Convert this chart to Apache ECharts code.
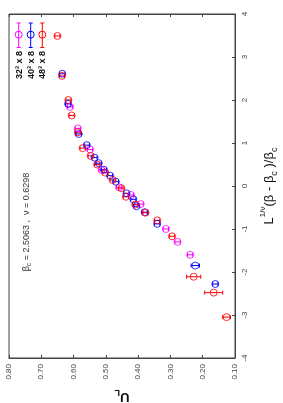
<!DOCTYPE html>
<html><head><meta charset="utf-8">
<script src="https://cdn.jsdelivr.net/npm/echarts/dist/echarts.min.js"></script>
<style>html,body{margin:0;padding:0;background:#fff}#c{width:283px;height:403px}</style>
</head><body><div id="c"></div>
<script>
// Series data: [U_L, scaling variable]
const seriesNames = ['32³ x 8', '40³ x 8', '48³ x 8'];
const seriesColors = ['#ff00ff', '#0000ff', '#ff0000'];
const magentaU = [0.611, 0.587, 0.549, 0.513, 0.459, 0.422, 0.392, 0.314, 0.278, 0.239];
const magentaS = [1.84, 1.34, 0.85, 0.37, -0.03, -0.21, -0.42, -1.00, -1.30, -1.60];
const magentaE = [0.008, 0.008, 0.008, 0.008, 0.008, 0.008, 0.008, 0.008, 0.008, 0.008];
const blueU = [0.635, 0.617, 0.584, 0.559, 0.535, 0.522, 0.506, 0.487, 0.469, 0.436, 0.415, 0.405, 0.380, 0.341, 0.223, 0.161];
const blueS = [2.61, 1.91, 1.21, 0.95, 0.66, 0.53, 0.38, 0.24, 0.10, -0.17, -0.31, -0.47, -0.61, -0.88, -1.85, -2.28];
const blueE = [0.008, 0.008, 0.008, 0.008, 0.008, 0.008, 0.008, 0.008, 0.008, 0.008, 0.008, 0.008, 0.008, 0.008, 0.013, 0.008];
const redU = [0.650, 0.636, 0.616, 0.606, 0.587, 0.572, 0.547, 0.527, 0.502, 0.479, 0.452, 0.438, 0.409, 0.377, 0.341, 0.295, 0.228, 0.166, 0.126];
const redS = [3.49, 2.56, 2.00, 1.64, 1.25, 0.88, 0.70, 0.50, 0.31, 0.14, -0.05, -0.25, -0.43, -0.62, -0.80, -1.17, -2.11, -2.48, -3.05];
const redE = [0.008, 0.008, 0.008, 0.008, 0.008, 0.008, 0.008, 0.008, 0.008, 0.008, 0.008, 0.008, 0.008, 0.008, 0.008, 0.008, 0.022, 0.028, 0.012];
const xTicks = [0.1, 0.8, 0.1]; // min, max, interval
const yTicks = [-4, 4, 1];

const allU = [magentaU, blueU, redU], allS = [magentaS, blueS, redS], allE = [magentaE, blueE, redE];

const chart = echarts.init(document.getElementById('c'));
const series = [];
for (let k = 0; k < 3; k++) {
  const pts = allU[k].map((u, i) => [u, allS[k][i], allE[k][i]]);
  series.push({
    type: 'custom', name: seriesNames[k] + ' err', data: pts, z: 3,
    renderItem: function (params, api) {
      const u = api.value(0), s = api.value(1), e = api.value(2);
      const a = api.coord([u - e, s]), b = api.coord([u + e, s]);
      const st = {stroke: seriesColors[k], lineWidth: 1};
      return {type: 'group', children: [
        {type: 'line', shape: {x1: a[0], y1: a[1], x2: b[0], y2: b[1]}, style: st},
        {type: 'line', shape: {x1: a[0], y1: a[1] - 2, x2: a[0], y2: a[1] + 2}, style: st},
        {type: 'line', shape: {x1: b[0], y1: b[1] - 2, x2: b[0], y2: b[1] + 2}, style: st}
      ]};
    }
  });
  series.push({
    type: 'scatter', name: seriesNames[k], data: pts.map(p => [p[0], p[1]]), z: 4,
    symbol: 'circle', symbolSize: 7,
    itemStyle: {color: 'rgba(0,0,0,0)', borderColor: seriesColors[k], borderWidth: 1}
  });
}

const axisLineC = '#444';
const labelStyle = {color: '#444', fontSize: 8, fontFamily: 'Liberation Sans'};
const legendGraphics = [];
const legX = [18.7, 30.7, 42.3];
for (let k = 0; k < 3; k++) {
  const c = seriesColors[k], x = legX[k];
  legendGraphics.push(
    {type: 'line', shape: {x1: x, y1: 23, x2: x, y2: 47.5}, style: {stroke: c, lineWidth: 1}},
    {type: 'line', shape: {x1: x - 2, y1: 23, x2: x + 2, y2: 23}, style: {stroke: c, lineWidth: 1}},
    {type: 'line', shape: {x1: x - 2, y1: 47.5, x2: x + 2, y2: 47.5}, style: {stroke: c, lineWidth: 1}},
    {type: 'circle', shape: {cx: x, cy: 34.7, r: 3.5}, style: {fill: 'rgba(0,0,0,0)', stroke: c, lineWidth: 1}},
    {type: 'text', x: x + 0.5, y: 51, rotation: Math.PI / 2,
      style: {text: seriesNames[k], textAlign: 'right', textVerticalAlign: 'middle',
        fontSize: 9, fontWeight: 'bold', fontFamily: 'Liberation Sans', fill: '#111'}}
  );
}
legendGraphics.push({
  type: 'text', x: 27, y: 222, rotation: Math.PI / 2,
  style: {
    text: '{b|β}{s|c}{t| = 2.5063 ,  ν = 0.6298}',
    textAlign: 'center', textVerticalAlign: 'middle',
    rich: {
      b: {fontSize: 9, fontFamily: 'Liberation Sans', fill: '#333', lineHeight: 12},
      s: {fontSize: 7, fontFamily: 'Liberation Sans', fill: '#333', verticalAlign: 'bottom', lineHeight: 12},
      t: {fontSize: 9, fontFamily: 'Liberation Sans', fill: '#333', lineHeight: 12}
    }
  }
});

chart.setOption({
  animation: false,
  backgroundColor: '#fff',
  grid: {left: 9, right: 48, top: 14, bottom: 45, containLabel: false, outerBoundsMode: 'none',
    show: true, borderColor: axisLineC, borderWidth: 1, backgroundColor: 'transparent'},
  xAxis: [{
    type: 'value', min: xTicks[0], max: xTicks[1], interval: xTicks[2], inverse: true, position: 'bottom',
    axisLine: {show: true, onZero: false, lineStyle: {color: axisLineC}},
    axisTick: {show: true, inside: true, length: 3, lineStyle: {color: axisLineC}},
    splitLine: {show: false},
    axisLabel: Object.assign({rotate: 90, margin: 6, formatter: v => v.toFixed(2)}, labelStyle),
    name: '{u|U}{l|L}', nameLocation: 'middle', nameGap: 30, nameRotate: 180,
    nameTextStyle: {rich: {
      u: {fontSize: 13, fontWeight: 'bold', fontFamily: 'Liberation Sans', color: '#111', lineHeight: 18},
      l: {fontSize: 9, fontWeight: 'bold', fontFamily: 'Liberation Sans', color: '#111', verticalAlign: 'bottom', lineHeight: 18}
    }}
  }, {
    type: 'value', min: xTicks[0], max: xTicks[1], interval: xTicks[2], inverse: true, position: 'top',
    axisLine: {show: true, onZero: false, lineStyle: {color: axisLineC}},
    axisTick: {show: true, inside: true, length: 3, lineStyle: {color: axisLineC}},
    splitLine: {show: false}, axisLabel: {show: false}
  }],
  yAxis: [{
    type: 'value', min: yTicks[0], max: yTicks[1], interval: yTicks[2], position: 'right',
    axisLine: {show: true, onZero: false, lineStyle: {color: axisLineC}},
    axisTick: {show: true, inside: true, length: 3, lineStyle: {color: axisLineC}},
    splitLine: {show: false},
    axisLabel: Object.assign({rotate: 90, margin: 6}, labelStyle),
    name: '{t|L}{p|1/ν}{t|(β - β}{s|c}{t| )/β}{s|c}', nameLocation: 'middle', nameGap: 24, nameRotate: 90,
    nameTextStyle: {rich: {
      t: {fontSize: 13, fontFamily: 'Liberation Sans', color: '#111', lineHeight: 20},
      p: {fontSize: 8, fontFamily: 'Liberation Sans', color: '#111', verticalAlign: 'top', lineHeight: 20},
      s: {fontSize: 9, fontFamily: 'Liberation Sans', color: '#111', verticalAlign: 'bottom', lineHeight: 20}
    }}
  }],
  graphic: legendGraphics,
  series: series
});
</script></body></html>
